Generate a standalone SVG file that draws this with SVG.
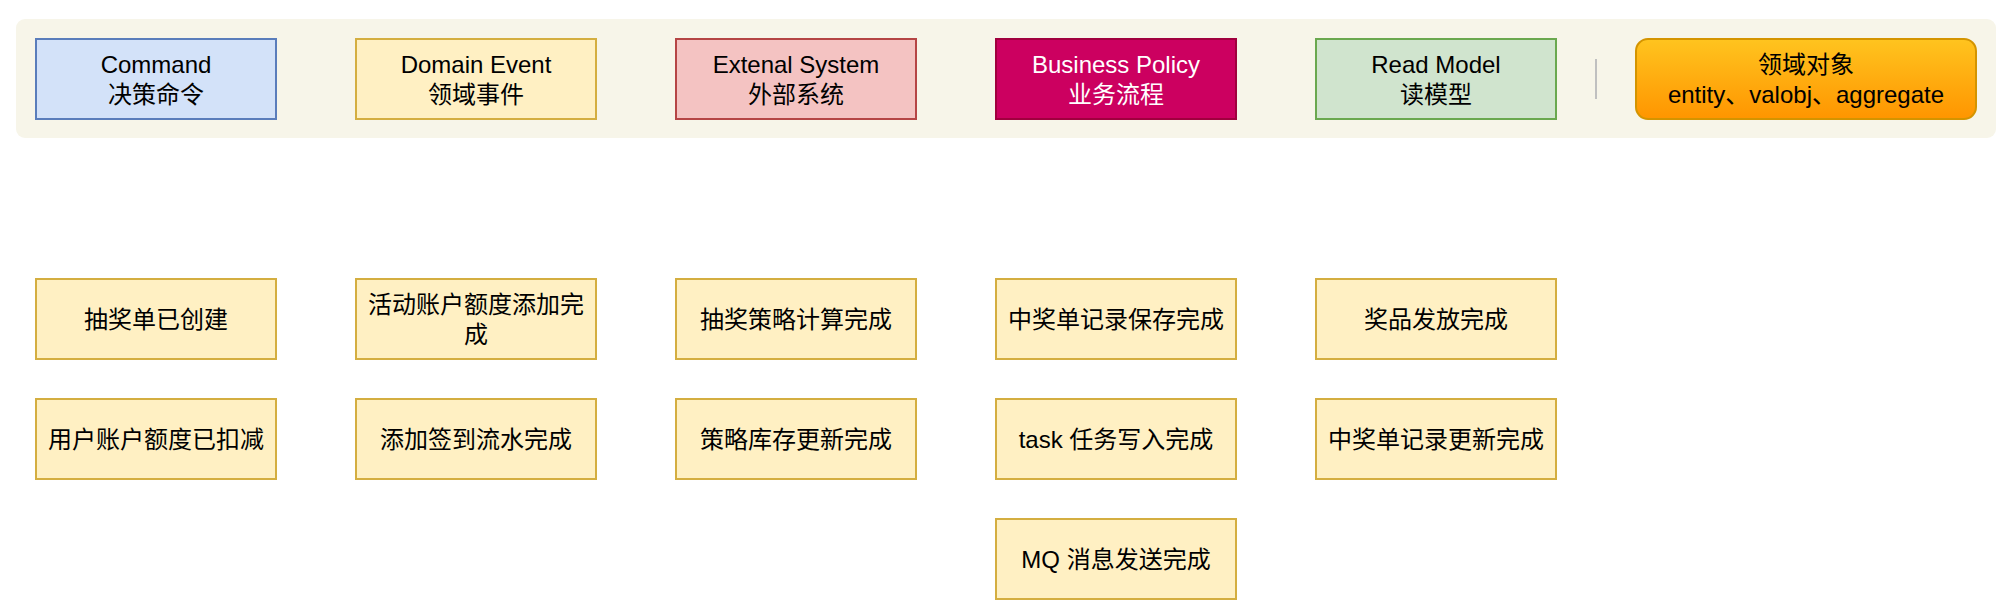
<svg xmlns="http://www.w3.org/2000/svg" width="2000" height="610" viewBox="0 0 2000 610">
<style>
text{font-family:"Liberation Sans","Noto Sans CJK SC",sans-serif;font-size:24px;fill:#000;text-anchor:middle;dominant-baseline:central}
.box{stroke-width:2}
.evt{fill:#FFF0C3;stroke:#D4AE40;stroke-width:2}
.w{fill:#fff}
</style>
<defs>
<linearGradient id="og" x1="0" y1="0" x2="0" y2="1">
<stop offset="0" stop-color="#FFC41F"/>
<stop offset="1" stop-color="#FF9500"/>
</linearGradient>
</defs>
<rect width="2000" height="610" fill="#fff"/>
<g id="legend-panel">
<rect x="16" y="19" width="1980" height="119" rx="9" fill="#F7F5E9"/>
<line x1="1596" y1="59" x2="1596" y2="99" stroke="#C0C0C0" stroke-width="2"/>
</g>
<g id="command">
<rect class="box" x="36" y="39" width="240" height="80" fill="#D3E2F9" stroke="#5A7DBB"/>
<text x="156" y="64">Command</text><text x="156" y="94">决策命令</text>
</g>
<g id="domain-event">
<rect class="evt" x="356" y="39" width="240" height="80"/>
<text x="476" y="64">Domain Event</text><text x="476" y="94">领域事件</text>
</g>
<g id="external-system">
<rect class="box" x="676" y="39" width="240" height="80" fill="#F4C3C2" stroke="#B54545"/>
<text x="796" y="64">Extenal System</text><text x="796" y="94">外部系统</text>
</g>
<g id="business-policy">
<rect class="box" x="996" y="39" width="240" height="80" fill="#CC0060" stroke="#A0003E"/>
<text class="w" x="1116" y="64">Business Policy</text><text class="w" x="1116" y="94">业务流程</text>
</g>
<g id="read-model">
<rect class="box" x="1316" y="39" width="240" height="80" fill="#D0E4CE" stroke="#6AA84F"/>
<text x="1436" y="64">Read Model</text><text x="1436" y="94">读模型</text>
</g>
<g id="domain-object">
<rect x="1636" y="39" width="340" height="80" rx="12" fill="url(#og)" stroke="#D49400" stroke-width="2"/>
<text x="1806" y="64">领域对象</text><text x="1806" y="94">entity、valobj、aggregate</text>
</g>
<g id="e1"><rect class="evt" x="36" y="279" width="240" height="80"/><text x="156" y="319">抽奖单已创建</text></g>
<g id="e2"><rect class="evt" x="36" y="399" width="240" height="80"/><text x="156" y="439">用户账户额度已扣减</text></g>
<g id="e3"><rect class="evt" x="356" y="279" width="240" height="80"/><text x="476" y="304">活动账户额度添加完</text><text x="476" y="334">成</text></g>
<g id="e4"><rect class="evt" x="356" y="399" width="240" height="80"/><text x="476" y="439">添加签到流水完成</text></g>
<g id="e5"><rect class="evt" x="676" y="279" width="240" height="80"/><text x="796" y="319">抽奖策略计算完成</text></g>
<g id="e6"><rect class="evt" x="676" y="399" width="240" height="80"/><text x="796" y="439">策略库存更新完成</text></g>
<g id="e7"><rect class="evt" x="996" y="279" width="240" height="80"/><text x="1116" y="319">中奖单记录保存完成</text></g>
<g id="e8"><rect class="evt" x="996" y="399" width="240" height="80"/><text x="1116" y="439">task 任务写入完成</text></g>
<g id="e9"><rect class="evt" x="996" y="519" width="240" height="80"/><text x="1116" y="559">MQ 消息发送完成</text></g>
<g id="e10"><rect class="evt" x="1316" y="279" width="240" height="80"/><text x="1436" y="319">奖品发放完成</text></g>
<g id="e11"><rect class="evt" x="1316" y="399" width="240" height="80"/><text x="1436" y="439">中奖单记录更新完成</text></g>
<g id="connectors"></g>
</svg>
